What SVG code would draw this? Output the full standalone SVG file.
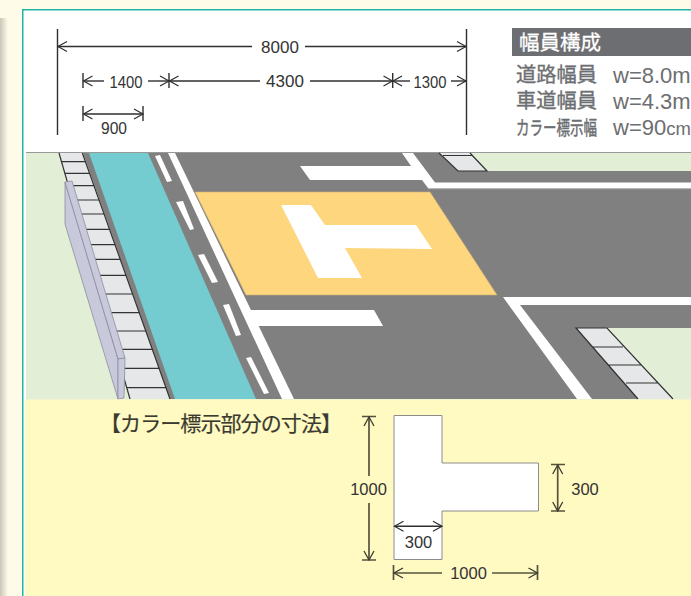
<svg xmlns="http://www.w3.org/2000/svg" width="691" height="596" viewBox="0 0 691 596">
<style>
.dim{stroke:#2f2f2f;stroke-width:1.4;fill:none}
.dimb{stroke:#55533f;stroke-width:1.7;fill:none}
.s{marker-start:url(#ch)}
.e{marker-end:url(#ch)}
.sb{marker-start:url(#chb)}
.eb{marker-end:url(#chb)}
.t{font-family:"Liberation Sans",Arial,sans-serif;fill:#333;text-anchor:middle}
.j{font-family:"Liberation Sans","Noto Sans CJK JP",sans-serif;fill:#6d6e71;stroke:#6d6e71;stroke-width:.35}
.w{font-family:"Liberation Sans",Arial,sans-serif;font-size:22px;fill:#6d6e71}
.r{fill:#808080}
.wh{fill:#fff}
.c{fill:#e6e7e9}
.d{stroke:#333;stroke-width:1.2;fill:none}
.wall{fill:#c9c9dc;stroke:#8d8d9e;stroke-width:.8}
</style>
<defs>
<linearGradient id="sh" x1="0" x2="1" y1="0" y2="0"><stop offset="0" stop-color="#c9c7b8"/><stop offset="1" stop-color="#fffbe9"/></linearGradient>
<marker id="ch" markerUnits="userSpaceOnUse" markerWidth="20" markerHeight="20" refX="10" refY="10" orient="auto-start-reverse" overflow="visible"><path d="M1,5 L10,10 L1,15" fill="none" stroke="#2f2f2f" stroke-width="1.2"/></marker>
<marker id="chb" markerUnits="userSpaceOnUse" markerWidth="20" markerHeight="20" refX="10" refY="10" orient="auto-start-reverse" overflow="visible"><path d="M1,5 L10,10 L1,15" fill="none" stroke="#3c3b2e" stroke-width="1.3"/></marker>
</defs>

<rect id="page" width="691" height="596" fill="#fffbe9"/>
<rect id="shadow" x="0" y="18" width="8" height="578" fill="url(#sh)"/>
<g id="panel">
<rect x="22" y="9" width="669" height="587" fill="#fff"/>
<path d="M22.75,596 V9.75 H691" fill="none" stroke="#1fb5a6" stroke-width="1.5"/>
</g>

<g id="road-scene">
<rect x="26" y="152" width="665" height="248" fill="#e2efd6"/>
<rect x="26" y="152" width="665" height="1" fill="#999"/>
<polygon class="r" points="83,153 439,153 470,153 487,171 691,171 691,328 607,328 673,399 170,399"/>
<polygon id="bike-lane" points="89,153 148,153 256,399 175,399" fill="#74cbd0"/>
<polygon id="colored-area" points="195,192 430,192 497,295 246,295" fill="#fed67e" stroke="#cfb077" stroke-width=".6"/>
<polygon id="t-mark" class="wh" points="281,205 311,205 325,225 416,225 432,249 345,248 362,278 318,278"/>
<g id="road-lines" class="wh">
<polygon points="168,153 175,153 294,399 282,399"/>
<polygon points="155,156 160,155 172,181 167,182"/>
<polygon points="176,202 183,201 194,229 190,230"/>
<polygon points="198,255 204,254 218,282 212,283"/>
<polygon points="223,305 229,304 241,335 236,336"/>
<polygon points="246,358 251,357 269,393 264,394"/>
<polygon points="248,310 374,310 383,326 257,326"/>
<polygon points="402,153 413,153 435,182.5 691,182.5 691,188 428,188 422,180 310,180 300,166 411,166"/>
<polygon points="503,297 691,297 691,305 520,305 592,399 577,399"/>
</g>
<rect x="428" y="188" width="263" height="1.2" fill="#b5b5b5"/>
<g id="left-curb">
<polygon points="59,153 82.3,153 170,399 130,399" fill="#e6e7e9"/>
<path class="d" d="M59,153 L130,399 M82.3,153 L170,399"/>
<path class="d" d="M61.5,161.7H85.4M64.9,173.3H89.6M68.5,185.7H94M72.6,200H99.1M76.7,214H104.1M81.1,229.3H109.6M85.6,244.7H115.1M89.8,259.3H120.4M94.5,275.3H126.1M99.9,294H132.8M105.3,312.7H139.5M110.6,331H146M115.9,349.3H152.6M121.4,368.3H159.4M127,387.7H166.3"/>
</g>
<g id="wall">
<polygon class="wall" points="65,182 118,359 118,399 65,224"/>
<polygon class="wall" points="65,182 72,181 125,358 118,359"/>
<polygon class="wall" points="118,359 125,358 124,398 118,399"/>
</g>
<g id="top-curb">
<polygon class="c" points="439,153 470,153 487,171 458,171"/>
<path class="d" d="M439,153 L458,171 H487 L470,153 M443,155.5H473"/>
</g>
<g id="right-curb">
<polygon class="c" points="576,328 607,328 673,399 638,399"/>
<path class="d" d="M638,399 L576,328 H607 L673,399 M593,347H623M608,365H641M626,383H658"/>
</g>
</g>

<rect id="lower-panel" x="25" y="399.5" width="666" height="196.5" fill="#fff9c2"/>

<g id="header">
<rect x="512" y="28" width="179" height="28" fill="#6d6e71"/>
<text x="519" y="50" font-family="'Liberation Sans','Noto Sans CJK JP',sans-serif" font-size="20.5" fill="#fff" stroke="#fff" stroke-width=".3">幅員構成</text>
<text class="j" x="516" y="82" font-size="20.3">道路幅員</text>
<text class="w" x="613" y="83">w=8.0m</text>
<text class="j" x="516" y="108" font-size="20.3">車道幅員</text>
<text class="w" x="613" y="109">w=4.3m</text>
<text class="j" transform="translate(516,135) scale(1,1.4)" font-size="13.5">カラー標示幅</text>
<text class="w" x="613" y="135">w=90<tspan font-size="18.5">cm</tspan></text>
</g>

<g id="t-shape">
<polygon points="394,415.5 442,415.5 442,463 538.5,463 538.5,511 442,511 442,559.5 394,559.5" fill="#fff" stroke="#8c8c8c" stroke-width="1"/>
</g>

<g id="connectors">
<path class="dim" d="M57.5,29V135M466.5,29V135M83,73V88M169,73V88M392.7,73V88M83,106V121M143,106V121"/>
<line class="dim s" x1="58" y1="46.5" x2="252" y2="46.5"/>
<line class="dim e" x1="305" y1="46.5" x2="466" y2="46.5"/>
<line class="dim s" x1="83.5" y1="81" x2="104" y2="81"/>
<line class="dim e" x1="148" y1="81" x2="169" y2="81"/>
<line class="dim s" x1="169.5" y1="81" x2="260" y2="81"/>
<line class="dim e" x1="310" y1="81" x2="392.5" y2="81"/>
<line class="dim s" x1="393" y1="81" x2="410" y2="81"/>
<line class="dim e" x1="451" y1="81" x2="466" y2="81"/>
<line class="dim s e" x1="83.5" y1="114" x2="143" y2="114"/>
<path class="dimb" d="M362,416.5H376M362,560H376M551,464.5H565M551,511H565M393.5,565V580M537.5,565V580"/>
<line class="dimb sb" x1="369" y1="417" x2="369" y2="476"/>
<line class="dimb eb" x1="369" y1="503" x2="369" y2="560"/>
<line class="dimb sb eb" x1="557.7" y1="465" x2="557.7" y2="511"/>
<line class="dim s e" x1="394.5" y1="526.3" x2="442" y2="526.3"/>
<line class="dimb sb" x1="394" y1="573" x2="442" y2="573"/>
<line class="dimb eb" x1="492" y1="573" x2="537.5" y2="573"/>
</g>

<g id="labels">
<text class="t" x="280" y="52.5" font-size="17">8000</text>
<text class="t" x="126" y="87.5" font-size="16.5" textLength="33" lengthAdjust="spacingAndGlyphs">1400</text>
<text class="t" x="285" y="86.5" font-size="17">4300</text>
<text class="t" x="430" y="87.5" font-size="16.5" textLength="33" lengthAdjust="spacingAndGlyphs">1300</text>
<text class="t" x="114" y="133.5" font-size="16" textLength="26" lengthAdjust="spacingAndGlyphs">900</text>
<text x="100" y="431" font-family="'Noto Sans CJK JP',sans-serif" font-size="21" fill="#3a3a30" stroke="#3a3a30" stroke-width=".2" textLength="242">【カラー標示部分の寸法】</text>
<text class="t" x="368.5" y="495" font-size="16.5">1000</text>
<text class="t" x="585" y="495" font-size="16.5">300</text>
<text class="t" x="418.5" y="548" font-size="16.5">300</text>
<text class="t" x="468.5" y="579" font-size="16.5">1000</text>
</g>
</svg>
